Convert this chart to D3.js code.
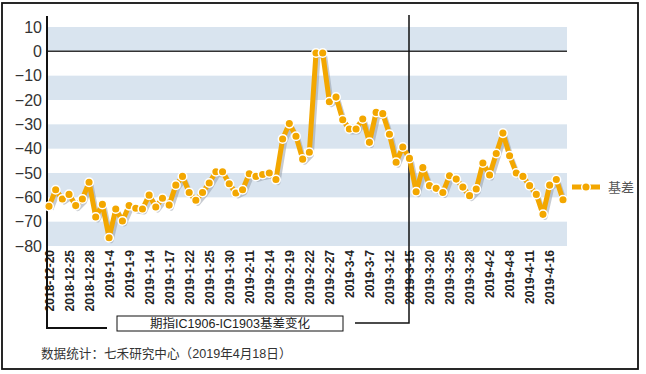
<!DOCTYPE html>
<meta charset="utf-8">
<style>
  body { margin: 0; background: #fff; }
  .axis text { font-family: "Liberation Sans", Arial, sans-serif; }
</style>
<div class="chart"></div>
<script src="https://cdn.jsdelivr.net/npm/d3@7/dist/d3.min.js"></script>
<script>
  // trading days, one per point
  var dates = [
    "2018-12-20","2018-12-21","2018-12-24","2018-12-25","2018-12-26","2018-12-27","2018-12-28",
    "2019-1-2","2019-1-3","2019-1-4","2019-1-7","2019-1-8","2019-1-9","2019-1-10","2019-1-11",
    "2019-1-14","2019-1-15","2019-1-16","2019-1-17","2019-1-18","2019-1-21","2019-1-22","2019-1-23",
    "2019-1-24","2019-1-25","2019-1-28","2019-1-29","2019-1-30","2019-1-31","2019-2-1",
    "2019-2-11","2019-2-12","2019-2-13","2019-2-14","2019-2-15","2019-2-18","2019-2-19","2019-2-20",
    "2019-2-21","2019-2-22","2019-2-25","2019-2-26","2019-2-27","2019-2-28","2019-3-1",
    "2019-3-4","2019-3-5","2019-3-6","2019-3-7","2019-3-8","2019-3-11","2019-3-12","2019-3-13",
    "2019-3-14","2019-3-15","2019-3-18","2019-3-19","2019-3-20","2019-3-21","2019-3-22",
    "2019-3-25","2019-3-26","2019-3-27","2019-3-28","2019-3-29","2019-4-1","2019-4-2","2019-4-3",
    "2019-4-4","2019-4-8","2019-4-9","2019-4-10","2019-4-11","2019-4-12","2019-4-15","2019-4-16",
    "2019-4-17","2019-4-18"
  ];

  // 基差
  var basis = [
    -63.7, -56.9, -60.7, -58.8, -63.4, -60.7, -53.8, -68.1, -62.9, -76.6,
    -64.8, -69.7, -63.4, -64.5, -64.8, -59.1, -64.0, -60.4, -63.2, -55.0,
    -51.4, -58.0, -61.2, -58.0, -54.1, -49.5, -49.5, -54.4, -58.2, -56.9,
    -50.3, -51.4, -50.6, -50.0, -52.7, -36.0, -29.7, -34.9, -44.3, -41.5,
    -0.7, -0.7, -20.7, -18.8, -28.1, -31.9, -31.9, -27.8, -37.4, -25.1,
    -25.6, -34.1, -45.6, -39.3, -44.0, -57.7, -47.8, -55.2, -56.3, -58.0,
    -51.1, -52.5, -55.8, -59.3, -56.6, -45.9, -50.8, -42.0, -33.6, -42.9,
    -50.0, -51.4, -55.2, -58.8, -67.0, -55.0, -52.7, -61.0
  ];

  // tick labels on the x axis: every third trading day
  var tickLabels = dates.filter(function(d, i){ return i % 3 === 0; });
  var yTicks = [10, 0, -10, -20, -30, -40, -50, -60, -70, -80];
  var seriesName = "基差";
  var title = "期指IC1906-IC1903基差变化";
  var note = "数据统计：七禾研究中心（2019年4月18日）";
  var markDate = "2019-3-15";

  var W = 646, H = 374;
  var orange = "#f3a700";
  var plotLeft = 47, plotRight = 567;

  var x = d3.scalePoint().domain(dates).range([49, 563]);
  var y = d3.scaleLinear().domain([-80, 10]).range([246, 27]);

  var svg = d3.select(".chart").append("svg")
      .attr("width", W).attr("height", H);

  // frame
  svg.append("rect")
      .attr("x", 2).attr("y", 3).attr("width", 636).attr("height", 366)
      .attr("fill", "none").attr("stroke", "#111").attr("stroke-width", 1.8);

  // alternate bands
  var bands = [[10, 0], [-10, -20], [-30, -40], [-50, -60], [-70, -80]];
  svg.append("g").selectAll("rect").data(bands).enter().append("rect")
      .attr("x", plotLeft).attr("width", plotRight - plotLeft)
      .attr("y", function(d){ return y(d[0]); })
      .attr("height", function(d){ return y(d[1]) - y(d[0]); })
      .attr("fill", "#d9e4ef");

  // zero line
  svg.append("line")
      .attr("x1", plotLeft).attr("x2", plotRight)
      .attr("y1", y(0)).attr("y2", y(0))
      .attr("stroke", "#333").attr("stroke-width", 1.5);

  // y axis labels
  var yAxis = d3.axisLeft(y).tickValues(yTicks).tickSize(0).tickPadding(5);
  var gy = svg.append("g").attr("class", "axis")
      .attr("transform", "translate(" + plotLeft + ",0)")
      .call(yAxis);
  gy.select(".domain").remove();
  gy.selectAll("text").attr("font-size", "16px").attr("fill", "#333");

  // x axis labels, rotated
  var xAxis = d3.axisBottom(x).tickValues(tickLabels).tickSize(0).tickPadding(0);
  var gx = svg.append("g").attr("class", "axis")
      .attr("transform", "translate(0,250)")
      .call(xAxis);
  gx.select(".domain").remove();
  gx.selectAll("text")
      .attr("font-size", "12px").attr("font-weight", "bold").attr("fill", "#222")
      .attr("text-anchor", "end")
      .attr("transform", "rotate(-90)")
      .attr("x", 0).attr("y", 0).attr("dy", "0.36em");

  // left bracket (the axis line)
  svg.append("path")
      .attr("d", "M" + plotLeft + ",16V328H107")
      .attr("fill", "none").attr("stroke", "#111").attr("stroke-width", 2);

  // right bracket at the marked day
  var mx = Math.round(x(markDate));
  svg.append("path")
      .attr("d", "M" + mx + ",15V323H355")
      .attr("fill", "none").attr("stroke", "#111").attr("stroke-width", 1.5);

  // series
  var line = d3.line()
      .x(function(d, i){ return x(dates[i]); })
      .y(function(d){ return y(d); });

  svg.append("path").datum(basis)
      .attr("d", line)
      .attr("transform", "translate(2,3)")
      .attr("fill", "none").attr("stroke", "#8f98a3").attr("stroke-opacity", 0.5)
      .attr("stroke-width", 5).attr("stroke-linejoin", "round");

  svg.append("path").datum(basis)
      .attr("d", line)
      .attr("fill", "none").attr("stroke", orange)
      .attr("stroke-width", 5).attr("stroke-linejoin", "round");

  svg.append("g").selectAll("circle").data(basis).enter().append("circle")
      .attr("cx", function(d, i){ return x(dates[i]); })
      .attr("cy", function(d){ return y(d); })
      .attr("r", 4.3)
      .attr("fill", orange).attr("stroke", "#fff").attr("stroke-width", 1.5);

  // legend
  var lg = svg.append("g").attr("transform", "translate(572,187)");
  lg.append("line").attr("x1", 0).attr("x2", 28)
      .attr("stroke", orange).attr("stroke-width", 5);
  lg.append("circle").attr("cx", 14).attr("r", 4.3)
      .attr("fill", orange).attr("stroke", "#fff").attr("stroke-width", 1.5);
  lg.append("text").attr("x", 36).attr("dy", "0.36em")
      .attr("font-family", "'Noto Sans CJK SC', sans-serif")
      .attr("font-size", "13px").attr("fill", "#555")
      .text(seriesName);

  // title box
  svg.append("rect")
      .attr("x", 117).attr("y", 316).attr("width", 226).attr("height", 15)
      .attr("fill", "#fff").attr("stroke", "#111").attr("stroke-width", 1);
  svg.append("text")
      .attr("x", 230).attr("y", 323.5).attr("dy", "0.36em")
      .attr("text-anchor", "middle")
      .attr("font-family", "'Liberation Sans', 'Noto Sans CJK SC', sans-serif")
      .attr("font-size", "12.5px").attr("fill", "#222")
      .text(title);

  // source note
  svg.append("text")
      .attr("x", 41).attr("y", 353).attr("dy", "0.36em")
      .attr("font-family", "'Liberation Sans', 'Noto Sans CJK SC', sans-serif")
      .attr("font-size", "12.6px").attr("fill", "#333")
      .text(note);
</script>
